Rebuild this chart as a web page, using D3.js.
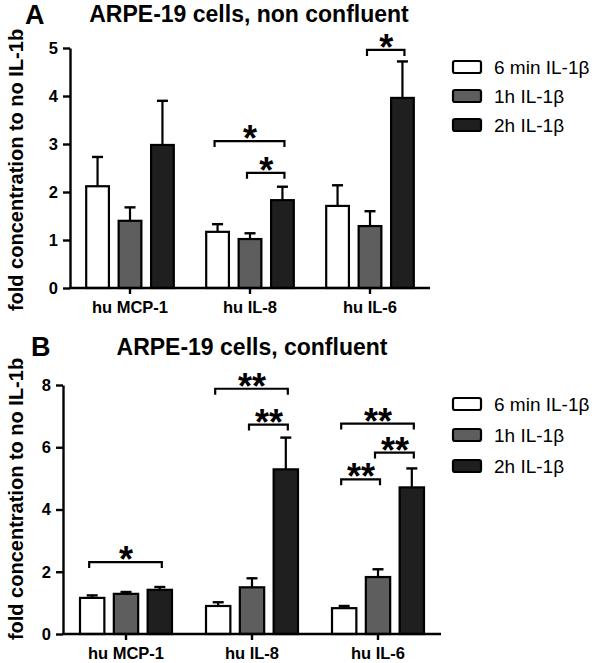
<!DOCTYPE html>
<html>
<head>
<meta charset="utf-8">
<script src="https://cdn.jsdelivr.net/npm/d3@7/dist/d3.min.js"></script>
<style>
  html, body { margin: 0; padding: 0; background: #fff; }
  svg { display: block; }
  text { font-family: "Liberation Sans", Arial, Helvetica, sans-serif; fill: #000; }
</style>
</head>
<body>
<svg id="chart" width="597" height="663"></svg>
<script>
// ---------------- DATA ----------------
const categories = ["hu MCP-1", "hu IL-8", "hu IL-6"];
const seriesNames = ["6 min IL-1β", "1h IL-1β", "2h IL-1β"];

// Panel A: ARPE-19 cells, non confluent
const titleA = "ARPE-19 cells, non confluent";
const ticksA = [0, 1, 2, 3, 4, 5];
const meanA_6min = [2.12, 1.17, 1.71];
const meanA_1h   = [1.40, 1.02, 1.29];
const meanA_2h   = [2.98, 1.83, 3.96];
const errA_6min  = [0.61, 0.16, 0.43];
const errA_1h    = [0.28, 0.12, 0.31];
const errA_2h    = [0.92, 0.28, 0.76];
const sigA = [
  { cat: "hu IL-8", from: 0, to: 2, y: 3.06, label: "*" },
  { cat: "hu IL-8", from: 1, to: 2, y: 2.40, label: "*" },
  { cat: "hu IL-6", from: 1, to: 2, y: 4.96, label: "*" }
];

// Panel B: ARPE-19 cells, confluent
const titleB = "ARPE-19 cells, confluent";
const ticksB = [0, 2, 4, 6, 8];
const meanB_6min = [1.16, 0.90, 0.83];
const meanB_1h   = [1.29, 1.50, 1.83];
const meanB_2h   = [1.42, 5.29, 4.71];
const errB_6min  = [0.08, 0.12, 0.07];
const errB_1h    = [0.06, 0.29, 0.25];
const errB_2h    = [0.09, 1.02, 0.61];
const sigB = [
  { cat: "hu MCP-1", from: 0, to: 2, y: 2.31, label: "*" },
  { cat: "hu IL-8",  from: 0, to: 2, y: 7.88, label: "**" },
  { cat: "hu IL-8",  from: 1, to: 2, y: 6.73, label: "**" },
  { cat: "hu IL-6",  from: 0, to: 2, y: 6.76, label: "**" },
  { cat: "hu IL-6",  from: 1, to: 2, y: 5.83, label: "**" },
  { cat: "hu IL-6",  from: 0, to: 1, y: 4.97, label: "**" }
];

const yLabel = "fold concentration to no IL-1b";

// ---------------- STYLE ----------------
const fills = ["#ffffff", "#5e5e5e", "#1f1f1f"];
const FONT = '"Liberation Sans", Arial, Helvetica, sans-serif';

const svg = d3.select("#chart");

function drawPanel(cfg) {
  const g = svg.append("g");
  const means = cfg.means, errs = cfg.errs;

  const x0 = d3.scaleBand().domain(categories)
    .range([cfg.left, cfg.right]).paddingInner(cfg.padIn).paddingOuter(cfg.padOut);
  const x1 = d3.scaleBand().domain(d3.range(seriesNames.length))
    .range([0, x0.bandwidth()]).paddingInner(cfg.barPad);
  const y = d3.scaleLinear().domain([0, d3.max(cfg.ticks)]).range([cfg.bottom, cfg.top]);

  // bars + error bars
  categories.forEach((c, ci) => {
    seriesNames.forEach((s, si) => {
      const v = means[si][ci], e = errs[si][ci];
      const bx = x0(c) + x1(si);
      const bw = x1.bandwidth();
      const cx = bx + bw / 2;
      g.append("line").attr("x1", cx).attr("x2", cx)
        .attr("y1", y(v)).attr("y2", y(v + e))
        .attr("stroke", "#000").attr("stroke-width", 2.2);
      g.append("line").attr("x1", cx - 5.5).attr("x2", cx + 5.5)
        .attr("y1", y(v + e)).attr("y2", y(v + e))
        .attr("stroke", "#000").attr("stroke-width", 2.4);
      g.append("rect")
        .attr("x", bx).attr("y", y(v))
        .attr("width", bw).attr("height", y(0) - y(v))
        .attr("fill", fills[si]).attr("stroke", "#000").attr("stroke-width", 2.2);
    });
  });

  // y axis
  const yAxis = d3.axisLeft(y).tickValues(cfg.ticks).tickSize(7).tickSizeOuter(0).tickPadding(5)
    .tickFormat(d3.format("d"));
  const ya = g.append("g").attr("transform", `translate(${cfg.left},0)`).call(yAxis);
  ya.attr("font-size", null).attr("font-family", null);
  ya.select(".domain").attr("stroke", "#000").attr("stroke-width", 2.4);
  ya.selectAll(".tick line").attr("stroke", "#000").attr("stroke-width", 2.4);
  ya.selectAll(".tick text").style("font-family", FONT).style("font-weight", "bold")
    .style("font-size", "16.5px").attr("fill", "#000");

  // x axis
  const xAxis = d3.axisBottom(x0).tickSize(6).tickSizeOuter(0).tickPadding(7);
  const xa = g.append("g").attr("transform", `translate(0,${cfg.bottom})`).call(xAxis);
  xa.attr("font-size", null).attr("font-family", null);
  xa.select(".domain").attr("stroke", "#000").attr("stroke-width", 2.4)
    .attr("d", `M${cfg.left - 1},0H${cfg.right}`);
  xa.selectAll(".tick line").attr("stroke", "#000").attr("stroke-width", 2.4);
  xa.selectAll(".tick text").style("font-family", FONT).style("font-weight", "bold")
    .style("font-size", "16.5px").attr("fill", "#000");

  // significance brackets
  cfg.sig.forEach(s => {
    const xa_ = x0(s.cat) + x1(s.from) + x1.bandwidth() / 2;
    const xb_ = x0(s.cat) + x1(s.to) + x1.bandwidth() / 2;
    const yy = y(s.y);
    g.append("path")
      .attr("d", `M${xa_ - 3},${yy + 6}V${yy}H${xb_ + 2}V${yy + 6}`)
      .attr("fill", "none").attr("stroke", "#000").attr("stroke-width", 2.2);
    g.append("text").attr("x", (xa_ + xb_) / 2).attr("y", yy + 10)
      .attr("text-anchor", "middle")
      .style("font-family", FONT).style("font-weight", "bold").style("font-size", "36px")
      .text(s.label);
  });

  // panel letter & title
  g.append("text").attr("x", cfg.letterX).attr("y", cfg.letterY)
    .style("font-family", FONT).style("font-weight", "bold").style("font-size", "27px")
    .text(cfg.letter);
  g.append("text").attr("x", cfg.titleX).attr("y", cfg.titleY)
    .attr("text-anchor", "middle")
    .style("font-family", FONT).style("font-weight", "bold").style("font-size", "23px")
    .text(cfg.title);

  // y label
  g.append("text")
    .attr("transform", `translate(${cfg.yLabelX},${cfg.yLabelY}) rotate(-90)`)
    .attr("text-anchor", "middle")
    .style("font-family", FONT).style("font-weight", "bold").style("font-size", "20px")
    .text(yLabel);

  // legend
  seriesNames.forEach((s, si) => {
    const ly = cfg.legendY + si * cfg.legendStep;
    g.append("rect").attr("x", 453).attr("y", ly - 6).attr("width", 28).attr("height", 12)
      .attr("rx", 2).attr("fill", fills[si]).attr("stroke", "#000").attr("stroke-width", 2.2);
    g.append("text").attr("x", 494).attr("y", ly + 6.5)
      .style("font-family", FONT).style("font-size", "19px")
      .text(s);
  });
}

drawPanel({
  means: [meanA_6min, meanA_1h, meanA_2h],
  errs: [errA_6min, errA_1h, errA_2h],
  ticks: ticksA, sig: sigA,
  left: 70, right: 430, top: 48, bottom: 288,
  padIn: 0.27, padOut: 0.135, barPad: 0.3,
  letter: "A", letterX: 25, letterY: 24, title: titleA, titleX: 249, titleY: 22,
  yLabelX: 23, yLabelY: 170,
  legendY: 67, legendStep: 29
});

drawPanel({
  means: [meanB_6min, meanB_1h, meanB_2h],
  errs: [errB_6min, errB_1h, errB_2h],
  ticks: ticksB, sig: sigB,
  left: 63, right: 441, top: 385, bottom: 634,
  padIn: 0.27, padOut: 0.135, barPad: 0.28,
  letter: "B", letterX: 31, letterY: 356, title: titleB, titleX: 252, titleY: 355,
  yLabelX: 23, yLabelY: 499,
  legendY: 404, legendStep: 31
});
</script>
</body>
</html>
